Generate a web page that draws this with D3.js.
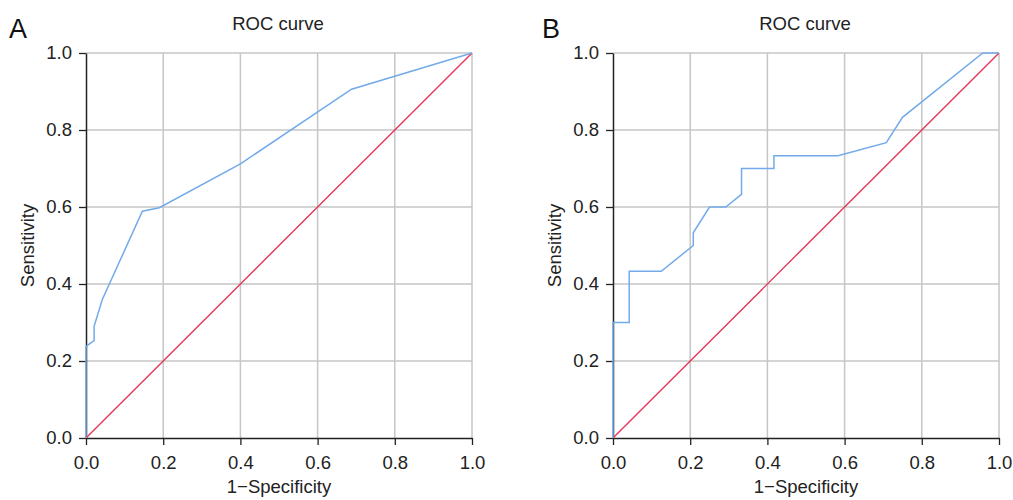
<!DOCTYPE html>
<html>
<head>
<meta charset="utf-8">
<script src="https://cdn.jsdelivr.net/npm/d3@7"></script>
<style>
body { margin:0; background:#fff; }
svg { display:block; font-family:"Liberation Sans", Arial, sans-serif; }
</style>
</head>
<body>
<div id="figure"></div>
<script>
// ROC points: [1-specificity, sensitivity]
var rocA = [[0,0],[0,0.238],[0.021,0.253],[0.021,0.29],[0.042,0.359],[0.146,0.589],
  [0.19,0.598],[0.4,0.712],[0.688,0.906],[1,1]];
var rocB = [[0,0],[0,0.3],[0.042,0.3],[0.042,0.433],[0.125,0.433],[0.208,0.5],[0.208,0.533],
  [0.25,0.6],[0.292,0.6],[0.333,0.633],[0.333,0.7],[0.417,0.7],[0.417,0.733],[0.583,0.733],
  [0.708,0.767],[0.75,0.833],[0.958,1],[1,1]];
var diagonal = [[0,0],[1,1]];
var ticks = [0,0.2,0.4,0.6,0.8,1.0];
var panels = [{label:"A", data:rocA, left:86}, {label:"B", data:rocB, left:613}];

var W = 1013, H = 500;
var pw = 386, ph = 385, plotTop = 53;
var fs = 18.5;

var svg = d3.select("#figure").append("svg").attr("width", W).attr("height", H);

function panel(p) {
	var g = svg.append("g").attr("transform", "translate(" + p.left + "," + plotTop + ")");
	var x = d3.scaleLinear().domain([0,1]).range([0,pw]);
	var y = d3.scaleLinear().domain([0,1]).range([ph,0]);

	// grid
	g.selectAll("line.vg").data(ticks.slice(1)).enter().append("line")
		.attr("x1", function(d){return x(d);}).attr("x2", function(d){return x(d);})
		.attr("y1", 0).attr("y2", ph)
		.attr("stroke", "#c6c6c6").attr("stroke-width", 1.5);
	g.selectAll("line.hg").data(ticks.slice(1)).enter().append("line")
		.attr("x1", 0).attr("x2", pw)
		.attr("y1", function(d){return y(d);}).attr("y2", function(d){return y(d);})
		.attr("stroke", "#c6c6c6").attr("stroke-width", 1.5);

	var xa = g.append("g").attr("transform", "translate(0," + ph + ")")
		.call(d3.axisBottom(x).tickValues(ticks).tickFormat(d3.format(".1f")).tickSizeOuter(0).tickSizeInner(7).tickPadding(11));
	var ya = g.append("g")
		.call(d3.axisLeft(y).tickValues(ticks).tickFormat(d3.format(".1f")).tickSizeOuter(0).tickSizeInner(7).tickPadding(7));
	[xa, ya].forEach(function(a) {
		a.attr("font-size", fs).attr("font-family", "Liberation Sans, Arial, sans-serif");
		a.selectAll("text").attr("fill", "#222");
		a.selectAll("line").attr("stroke", "#222").attr("stroke-width", 1.3);
		a.select(".domain").attr("stroke", "#222").attr("stroke-width", 1.5);
	});

	var line = d3.line().x(function(d){return x(d[0]);}).y(function(d){return y(d[1]);});
	g.append("path").datum(diagonal).attr("d", line)
		.attr("fill", "none").attr("stroke", "#e6365c").attr("stroke-width", 1.4);
	g.append("path").datum(p.data).attr("d", line)
		.attr("fill", "none").attr("stroke", "#72aaea").attr("stroke-width", 1.5);

	g.append("text").text("ROC curve").attr("x", pw/2 - 1).attr("y", -23)
		.attr("text-anchor", "middle").attr("font-size", fs).attr("fill", "#222");
	g.append("text").text("1\u2212Specificity").attr("x", pw/2).attr("y", ph + 55)
		.attr("text-anchor", "middle").attr("font-size", fs).attr("fill", "#222");
	g.append("text").text("Sensitivity")
		.attr("transform", "translate(-52," + (ph/2) + ") rotate(-90)")
		.attr("text-anchor", "middle").attr("font-size", fs).attr("fill", "#222");
	g.append("text").text(p.label).attr("x", p.label == "A" ? -77 : -71).attr("y", -15)
		.attr("font-size", 27).attr("fill", "#111");
}

panels.forEach(panel);
</script>
</body>
</html>
